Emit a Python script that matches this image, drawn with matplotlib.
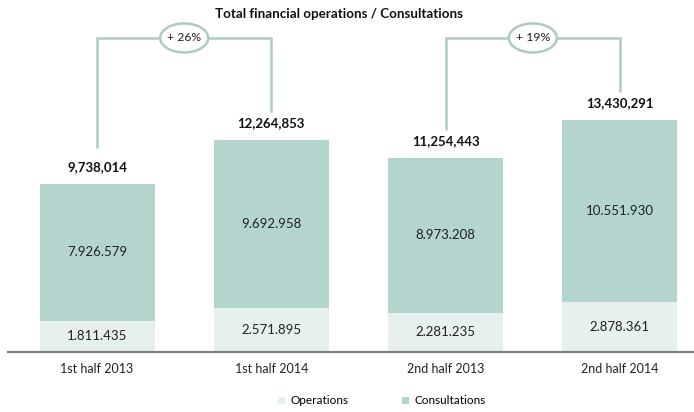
import matplotlib
matplotlib.use("Agg")
import matplotlib.pyplot as plt
from matplotlib.patches import Ellipse

plt.rcParams['font.family'] = ['Lato', 'DejaVu Sans']

categories = ["1st half 2013", "1st half 2014", "2nd half 2013", "2nd half 2014"]
operations = [1811435, 2571895, 2281235, 2878361]
consultations = [7926579, 9692958, 8973208, 10551930]
comparisons = [(0, 1), (2, 3)]

COL_OPS = "#e6f0ee"
COL_CONS = "#b3d5ce"
COL_LINE = "#adcbc4"

totals = [o + c for o, c in zip(operations, consultations)]


def dotted(v):
    return f"{v:,}".replace(",", ".")


fig = plt.figure(figsize=(6.94, 4.12), dpi=100)
ax = fig.add_axes([8 / 694, 60 / 412, 686 / 694, 352 / 412])
x = list(range(len(categories)))
width = 0.66

ax.bar(x, operations, width, color=COL_OPS, label="Operations")
ax.bar(x, consultations, width, bottom=operations, color=COL_CONS, label="Consultations")

ax.set_xlim(-0.511, 3.425)
ax.set_ylim(0, 20.4e6)
unit = 1e6 / 17.25  # data units per vertical pixel

for i in x:
    ax.text(i, operations[i] / 2, dotted(operations[i]), ha="center", va="center",
            fontsize=9.5, color="#222222")
    ax.text(i, operations[i] + consultations[i] / 2, dotted(consultations[i]),
            ha="center", va="center", fontsize=9.5, color="#222222")
    ax.annotate(f"{totals[i]:,}", (i, totals[i]), xytext=(0, 8), textcoords="offset points",
                ha="center", va="bottom", fontsize=9.5, fontweight="bold", color="#111111")

# growth brackets between comparable periods
top_y = 18.2e6
for a, b in comparisons:
    growth = round((totals[b] / totals[a] - 1) * 100)
    mid = (a + b) / 2
    ew = 48 / 174
    eh = 29 * unit
    ya = totals[a] + (36 if a == 0 else 28) * unit
    yb = totals[b] + 28 * unit
    ax.plot([a, a, mid - ew / 2], [ya, top_y, top_y], color=COL_LINE, lw=1.8,
            solid_capstyle="butt", solid_joinstyle="miter")
    ax.plot([mid + ew / 2, b, b], [top_y, top_y, yb], color=COL_LINE, lw=1.8,
            solid_capstyle="butt", solid_joinstyle="miter")
    ax.add_patch(Ellipse((mid, top_y), ew, eh, facecolor="white", edgecolor=COL_LINE, lw=1.8))
    ax.text(mid, top_y, f"+ {growth}%", ha="center", va="center", fontsize=8.8, color="#222222")

for s in ["top", "right", "left"]:
    ax.spines[s].set_visible(False)
ax.spines["bottom"].set_color("#808080")
ax.spines["bottom"].set_linewidth(1.6)
ax.set_yticks([])
ax.set_xticks(x)
ax.set_xticklabels(categories, fontsize=9, color="#222222")
ax.tick_params(axis="x", length=0, pad=8)

fig.text(339 / 694, 1 - 14 / 412, "Total financial operations / Consultations", ha="center",
         va="center", fontsize=9.6, fontweight="bold", color="#111111")

fig.legend(loc="center", bbox_to_anchor=(382 / 694, 1 - 401 / 412), ncol=2, frameon=False,
           fontsize=8.5, handlelength=0.6, handleheight=0.6, columnspacing=4.5, handletextpad=0.5)

fig.savefig("out.png", dpi=100, facecolor="white")
